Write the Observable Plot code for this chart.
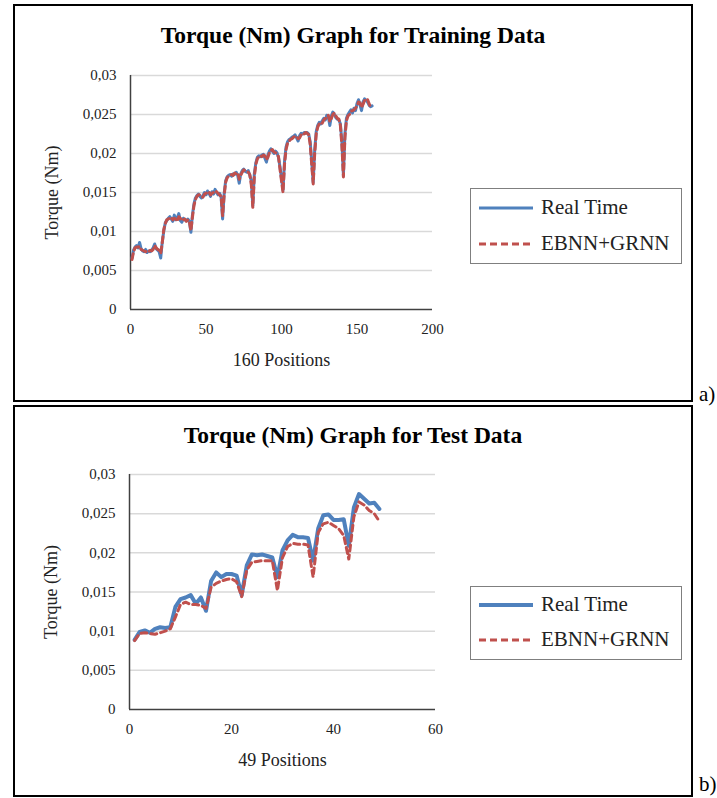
<!DOCTYPE html>
<html><head><meta charset="utf-8">
<script src="https://cdn.jsdelivr.net/npm/d3@7"></script>
<script src="https://cdn.jsdelivr.net/npm/@observablehq/plot@0.6"></script>
<style>
html,body{margin:0;padding:0;background:#fff;}
#page{position:relative;width:717px;height:798px;font-family:"Liberation Serif","Times New Roman",serif;color:#000;}
.box{position:absolute;border:2px solid #000;box-sizing:border-box;}
.title{position:absolute;left:0;width:100%;text-align:center;font-weight:bold;font-size:23.5px;}
.plot{position:absolute;}
.legend{position:absolute;border:1px solid #7f7f7f;background:#fff;font-size:21px;color:#222;}
.legend .row{position:absolute;left:6px;white-space:nowrap;display:flex;align-items:center;}
.legend svg{margin-right:6px;}
.tag{position:absolute;font-size:21px;}
</style></head>
<body><div id="page">
  <div class="box" style="left:13px;top:4px;width:680px;height:398px;">
    <div class="title" style="top:16px;">Torque (Nm) Graph for Training Data</div>
  </div>
  <div class="box" style="left:13px;top:405px;width:680px;height:392px;">
    <div class="title" style="top:15px;">Torque (Nm) Graph for Test Data</div>
  </div>
  <div id="plotA" class="plot" style="left:20px;top:60px;"></div>
  <div id="plotB" class="plot" style="left:20px;top:460px;"></div>
  <div class="legend" style="left:470px;top:188px;width:210px;height:74px;">
    <div class="row" style="top:6px;"><svg width="58" height="10"><line x1="2" x2="56" y1="5" y2="5" stroke="#4f81bd" stroke-width="3"/></svg>Real Time</div>
    <div class="row" style="top:42px;"><svg width="58" height="10"><line x1="2" x2="56" y1="5" y2="5" stroke="#c0504d" stroke-width="3" stroke-dasharray="7,4"/></svg>EBNN+GRNN</div>
  </div>
  <div class="legend" style="left:470px;top:586px;width:210px;height:72px;">
    <div class="row" style="top:5px;"><svg width="58" height="10"><line x1="2" x2="56" y1="5" y2="5" stroke="#4f81bd" stroke-width="4"/></svg>Real Time</div>
    <div class="row" style="top:40px;"><svg width="58" height="10"><line x1="2" x2="56" y1="5" y2="5" stroke="#c0504d" stroke-width="3" stroke-dasharray="7,4"/></svg>EBNN+GRNN</div>
  </div>
  <div class="tag" style="left:699px;top:382px;">a)</div>
  <div class="tag" style="left:699px;top:772px;">b)</div>
</div>
<script>
const seriesNames = ["Real Time", "EBNN+GRNN"];
const seriesColors = ["#4f81bd", "#c0504d"];
const yTicks = [0, 0.005, 0.01, 0.015, 0.02, 0.025, 0.03];
const yTickLabels = ["0", "0,005", "0,01", "0,015", "0,02", "0,025", "0,03"];
const xTicksTrain = [0, 50, 100, 150, 200];
const xTicksTest = [0, 20, 40, 60];

const trainPositions = d3.range(1, 161);
const trainReal = [
0.0066,0.0076,0.0080,0.0082,0.0079,0.0086,0.0078,0.0075,0.0074,0.0077,
0.0073,0.0075,0.0074,0.0076,0.0079,0.0084,0.0078,0.0076,0.0074,0.0066,
0.0086,0.0100,0.0111,0.0114,0.0117,0.0119,0.0116,0.0113,0.0121,0.0115,
0.0118,0.0123,0.0114,0.0112,0.0117,0.0115,0.0114,0.0116,0.0113,0.0099,
0.0121,0.0135,0.0143,0.0146,0.0148,0.0145,0.0143,0.0146,0.0150,0.0147,
0.0152,0.0149,0.0145,0.0151,0.0148,0.0154,0.0150,0.0147,0.0149,0.0144,
0.0116,0.0148,0.0165,0.0170,0.0172,0.0173,0.0171,0.0174,0.0173,0.0176,
0.0172,0.0162,0.0174,0.0178,0.0180,0.0177,0.0176,0.0178,0.0172,0.0165,
0.0133,0.0174,0.0188,0.0195,0.0197,0.0196,0.0198,0.0199,0.0194,0.0189,
0.0198,0.0203,0.0206,0.0203,0.0200,0.0203,0.0201,0.0195,0.0183,0.0168,
0.0153,0.0190,0.0208,0.0215,0.0218,0.0219,0.0221,0.0222,0.0224,0.0220,
0.0216,0.0223,0.0226,0.0225,0.0227,0.0226,0.0227,0.0225,0.0215,0.0190,
0.0163,0.0205,0.0228,0.0236,0.0240,0.0238,0.0242,0.0245,0.0243,0.0249,
0.0247,0.0236,0.0248,0.0253,0.0250,0.0246,0.0244,0.0243,0.0238,0.0215,
0.0172,0.0225,0.0245,0.0250,0.0253,0.0256,0.0252,0.0258,0.0255,0.0264,
0.0269,0.0262,0.0255,0.0266,0.0270,0.0268,0.0266,0.0262,0.0260,0.0261];
const trainModel = [
0.0064,0.0074,0.0079,0.0080,0.0080,0.0081,0.0077,0.0076,0.0075,0.0074,
0.0075,0.0074,0.0076,0.0075,0.0077,0.0082,0.0079,0.0077,0.0076,0.0072,
0.0085,0.0102,0.0110,0.0115,0.0116,0.0117,0.0118,0.0115,0.0117,0.0116,
0.0113,0.0119,0.0117,0.0114,0.0115,0.0116,0.0113,0.0115,0.0112,0.0101,
0.0118,0.0133,0.0141,0.0145,0.0147,0.0147,0.0145,0.0144,0.0148,0.0149,
0.0150,0.0151,0.0147,0.0149,0.0150,0.0152,0.0151,0.0149,0.0147,0.0145,
0.0120,0.0146,0.0163,0.0169,0.0171,0.0172,0.0173,0.0172,0.0175,0.0174,
0.0175,0.0167,0.0172,0.0176,0.0179,0.0178,0.0177,0.0176,0.0173,0.0160,
0.0131,0.0170,0.0186,0.0193,0.0196,0.0197,0.0196,0.0198,0.0197,0.0192,
0.0195,0.0201,0.0204,0.0205,0.0202,0.0201,0.0200,0.0196,0.0180,0.0165,
0.0150,0.0186,0.0205,0.0213,0.0216,0.0218,0.0219,0.0221,0.0222,0.0222,
0.0219,0.0220,0.0224,0.0226,0.0225,0.0227,0.0226,0.0224,0.0212,0.0186,
0.0161,0.0200,0.0225,0.0234,0.0238,0.0240,0.0239,0.0243,0.0245,0.0246,
0.0249,0.0241,0.0245,0.0250,0.0252,0.0248,0.0245,0.0244,0.0236,0.0210,
0.0170,0.0220,0.0242,0.0248,0.0250,0.0254,0.0255,0.0256,0.0258,0.0261,
0.0266,0.0265,0.0259,0.0263,0.0268,0.0270,0.0269,0.0264,0.0259,0.0258];

const testPositions = d3.range(1, 50);
const testReal = [
0.0089,0.0099,0.0101,0.0098,0.0103,0.0105,0.0104,0.0105,0.0131,0.0141,
0.0143,0.0146,0.0135,0.0143,0.0126,0.0164,0.0175,0.0169,0.0173,0.0173,
0.0171,0.0146,0.0184,0.0198,0.0197,0.0198,0.0196,0.0194,0.0169,0.0203,
0.0216,0.0223,0.0220,0.0220,0.0219,0.0190,0.0231,0.0248,0.0249,0.0242,
0.0242,0.0243,0.0209,0.0258,0.0275,0.0269,0.0263,0.0264,0.0256];
const testModel = [
0.0088,0.0097,0.0098,0.0097,0.0096,0.0098,0.0100,0.0103,0.0118,0.0134,
0.0137,0.0134,0.0134,0.0133,0.0129,0.0156,0.0161,0.0164,0.0166,0.0167,
0.0163,0.0144,0.0178,0.0188,0.0189,0.0190,0.0190,0.0190,0.0152,0.0194,
0.0208,0.0212,0.0211,0.0211,0.0210,0.0169,0.0226,0.0237,0.0239,0.0235,
0.0231,0.0222,0.0192,0.0246,0.0265,0.0261,0.0254,0.0250,0.0240];

function toRows(pos, real, model) {
  const rows = [];
  pos.forEach((p, i) => rows.push({pos: p, v: real[i], s: seriesNames[0]}));
  pos.forEach((p, i) => rows.push({pos: p, v: model[i], s: seriesNames[1]}));
  return rows;
}

const FONT = '"Liberation Serif","Times New Roman",serif';

function chart({pos, real, model, xDomain, xTicks, xLabel, ml, mr, mt, blueW}) {
  const rows = toRows(pos, real, model);
  return Plot.plot({
    width: 440, height: 320,
    marginLeft: ml, marginRight: mr, marginTop: mt, marginBottom: 71,
    style: {fontFamily: FONT, fontSize: "15px", color: "#222", background: "#fff"},
    x: {domain: xDomain, ticks: xTicks, tickSize: 0, tickPadding: 14, label: xLabel, labelArrow: "none", labelAnchor: "center", labelOffset: 56},
    y: {domain: [0, 0.03], ticks: yTicks, tickSize: 0, tickPadding: 14,
        tickFormat: (d) => yTickLabels[yTicks.indexOf(d)], label: "Torque (Nm)", labelArrow: "none", labelAnchor: "center", labelOffset: 85},
    marks: [
      Plot.gridY(yTicks.slice(1), {stroke: "#d9d9d9", strokeOpacity: 1, strokeWidth: 1.5}),
      Plot.ruleY([0], {stroke: "#404040", strokeWidth: 1.5}),
      Plot.ruleX([xDomain[0]], {y1: 0, y2: 0.03, stroke: "#404040", strokeWidth: 1.5}),
      Plot.line(rows.filter(d => d.s === seriesNames[0]), {x: "pos", y: "v", stroke: seriesColors[0], strokeWidth: blueW}),
      Plot.line(rows.filter(d => d.s === seriesNames[1]), {x: "pos", y: "v", stroke: seriesColors[1], strokeWidth: 3, strokeDasharray: "6,4"})
    ]
  });
}

const a = chart({pos: trainPositions, real: trainReal, model: trainModel, xDomain: [0, 200], xTicks: xTicksTrain,
  xLabel: "160 Positions", ml: 110, mr: 28, mt: 15, blueW: 3});
document.getElementById("plotA").appendChild(a);
const b = chart({pos: testPositions, real: testReal, model: testModel, xDomain: [0, 60], xTicks: xTicksTest,
  xLabel: "49 Positions", ml: 109, mr: 25, mt: 14, blueW: 4});
document.getElementById("plotB").appendChild(b);
d3.selectAll("#page svg g[aria-label='x-axis label'] text, #page svg g[aria-label='y-axis label'] text")
  .each(function() { this.textContent = this.textContent.replace(/\s*[→↑←↓]\s*/g, "").trim(); })
  .style("font-size", "18px").style("font-family", FONT).attr("fill", "#222");
</script>
</body></html>
